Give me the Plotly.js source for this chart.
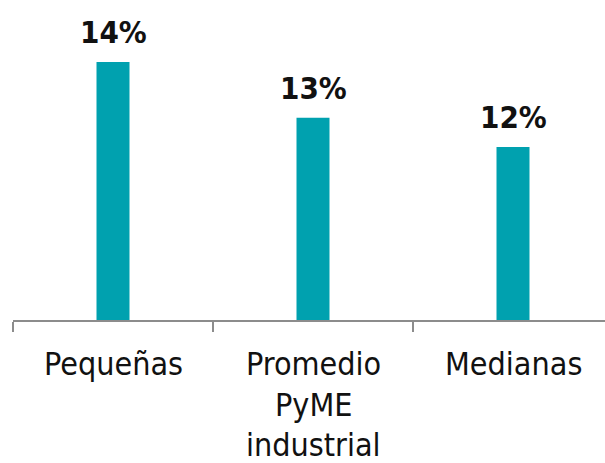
<!DOCTYPE html>
<html>
<head>
<meta charset="utf-8">
<script src="https://cdn.plot.ly/plotly-3.0.1.min.js"></script>
<style>html,body{margin:0;padding:0;background:#fff;}#chart{width:605px;height:463px;}</style>
</head>
<body>
<div id="chart"></div>
<script>
// Data
var categories = ["Pequeñas", "Promedio PyME industrial", "Medianas"];
var categoryLabelLines = [["Pequeñas"], ["Promedio", "PyME", "industrial"], ["Medianas"]];
var values = [0.140, 0.127, 0.1202];
var valueLabels = ["14%", "13%", "12%"];

var FONT = "'DejaVu Sans Condensed', 'Liberation Sans Narrow', sans-serif";
var barColor = "#00A1AF";

var annotations = [];
for (var i = 0; i < categories.length; i++) {
  annotations.push({
    x: categories[i], y: values[i], xref: "x", yref: "y",
    text: "<b>" + valueLabels[i] + "</b>", showarrow: false,
    yanchor: "bottom", xanchor: "center", yshift: 10,
    font: {family: FONT, size: 31, color: "#111"}
  });
  var lines = categoryLabelLines[i];
  for (var j = 0; j < lines.length; j++) {
    annotations.push({
      x: categories[i], y: 0, xref: "x", yref: "paper",
      text: lines[j], showarrow: false,
      yanchor: "top", xanchor: "center", yshift: -23 - 40.5 * j,
      font: {family: FONT, size: 32, color: "#111"}
    });
  }
}

var trace = {
  type: "bar",
  x: categories,
  y: values,
  width: 0.165,
  marker: {color: barColor},
  hoverinfo: "skip"
};

var layout = {
  width: 605, height: 463,
  margin: {l: 13, r: 0, t: 0, b: 143},
  paper_bgcolor: "#fff", plot_bgcolor: "#fff",
  showlegend: false,
  xaxis: {
    type: "category",
    range: [-0.5, 2.46],
    showline: true, linecolor: "#8c8c8c", linewidth: 2,
    ticks: "outside", tickson: "boundaries", ticklen: 10, tickwidth: 1.5, tickcolor: "#8c8c8c",
    showticklabels: false, showgrid: false, zeroline: false, fixedrange: true
  },
  yaxis: {
    range: [0.08, 0.1544],
    visible: false, showgrid: false, zeroline: false, fixedrange: true
  },
  annotations: annotations
};

Plotly.newPlot("chart", [trace], layout, {displayModeBar: false, staticPlot: true});
</script>
</body>
</html>
